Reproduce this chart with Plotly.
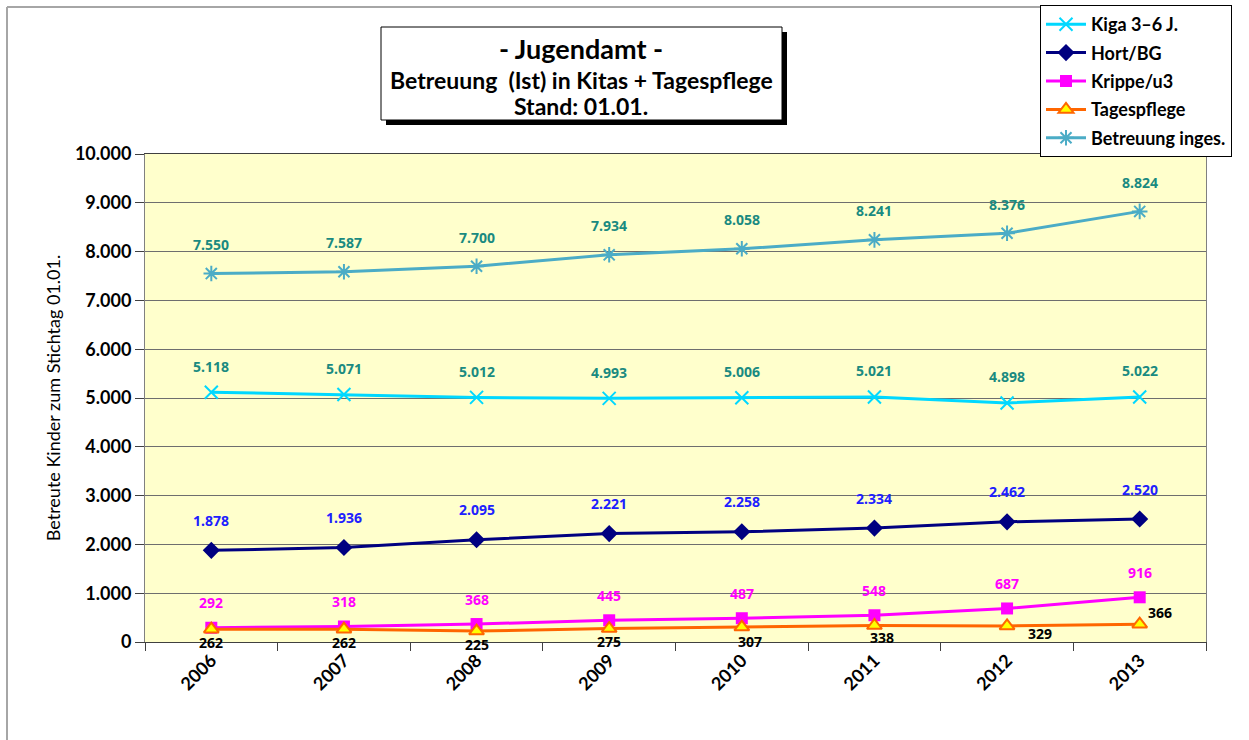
import plotly.graph_objects as go

# ---- data ----
years = ["2006", "2007", "2008", "2009", "2010", "2011", "2012", "2013"]
kiga = [5118, 5071, 5012, 4993, 5006, 5021, 4898, 5022]
hort = [1878, 1936, 2095, 2221, 2258, 2334, 2462, 2520]
krippe = [292, 318, 368, 445, 487, 548, 687, 916]
tagespflege = [262, 262, 225, 275, 307, 338, 329, 366]
betreuung = [7550, 7587, 7700, 7934, 8058, 8241, 8376, 8824]
y_ticks = [0, 1000, 2000, 3000, 4000, 5000, 6000, 7000, 8000, 9000, 10000]

# ---- layout geometry ----
W, H = 1249, 740
ML, MR, MT, MB = 145, 43, 154, 98
PW, PH = W - ML - MR, H - MT - MB


def px_x(x):
    return (x - ML) / PW


def px_y(y):
    return (H - MB - y) / PH


def fmt(v):
    return f"{v:,}".replace(",", ".")


FONT = "Lato, 'Open Sans', sans-serif"
LABEL_FONT = "'Noto Sans', 'DejaVu Sans', sans-serif"

series = [
    dict(name="Kiga 3–6 J.", y=kiga, color="#00D8FF", symbol="x-thin-open", msize=13,
         mcolor="#00D8FF", mline="#00D8FF", lcolor="#1A8A80", dy=26),
    dict(name="Hort/BG", y=hort, color="#000080", symbol="diamond", msize=11,
         mcolor="#000080", mline="#000080", lcolor="#2020FF", dy=30),
    dict(name="Krippe/u3", y=krippe, color="#FF00FF", symbol="square", msize=12,
         mcolor="#FF00FF", mline="#FF00FF", lcolor="#FF00FF", dy=25),
    dict(name="Tagespflege", y=tagespflege, color="#FF6600", symbol="triangle-up", msize=13,
         mcolor="#FFFF00", mline="#FF6600", lcolor="#000000", dy=-13),
    dict(name="Betreuung inges.", y=betreuung, color="#4BACC6", symbol="asterisk-open", msize=13,
         mcolor="#4BACC6", mline="#4BACC6", lcolor="#1A8A80", dy=29),
]

# special offsets (x, y) for some Tagespflege labels
tp_offsets = {6: (33, -8), 7: (20, 12), 4: (8, -14), 5: (8, -12)}

fig = go.Figure()
annotations = []
for k, s in enumerate(series):
    fig.add_trace(go.Scatter(
        x=years, y=s["y"], name=s["name"], mode="lines+markers",
        legendgroup=f"g{k}",
        line=dict(color=s["color"], width=3),
        marker=dict(symbol=s["symbol"], size=s["msize"], color=s["mcolor"],
                    line=dict(color=s["mline"], width=2 if s["symbol"] != "square" else 0)),
    ))
    for i, v in enumerate(s["y"]):
        dx, dy = 0, s["dy"]
        if s["name"] == "Tagespflege" and i in tp_offsets:
            dx, dy = tp_offsets[i]
        annotations.append(dict(
            x=i, y=v, xref="x", yref="y", text=fmt(v), showarrow=False,
            xshift=dx, yshift=dy, xanchor="center", yanchor="middle",
            font=dict(family=LABEL_FONT, size=14, color=s["lcolor"], weight="bold"),
        ))

# title text
annotations += [
    dict(x=px_x(581), y=px_y(48), xref="paper", yref="paper", text="- Jugendamt -",
         xanchor="center", yanchor="middle",
         showarrow=False, font=dict(family=FONT, size=27, color="#000", weight="bold")),
    dict(x=px_x(581), y=px_y(80), xref="paper", yref="paper",
         text="Betreuung  (Ist) in Kitas + Tagespflege", xanchor="center", yanchor="middle",
         showarrow=False, font=dict(family=FONT, size=23, color="#000", weight="bold")),
    dict(x=px_x(581), y=px_y(106), xref="paper", yref="paper", text="Stand: 01.01.",
         xanchor="center", yanchor="middle",
         showarrow=False, font=dict(family=FONT, size=23, color="#000", weight="bold")),
]

shapes = [
    # outer chart frame (left and top)
    dict(type="line", xref="paper", yref="paper", x0=px_x(7), x1=px_x(7), y0=px_y(7), y1=px_y(745),
         line=dict(color="#A6A6A6", width=2)),
    dict(type="line", xref="paper", yref="paper", x0=px_x(7), x1=px_x(1040), y0=px_y(7), y1=px_y(7),
         line=dict(color="#A6A6A6", width=2)),
    # title box shadow and box
    dict(type="rect", xref="paper", yref="paper", x0=px_x(386), x1=px_x(787), y0=px_y(32), y1=px_y(125),
         fillcolor="#000", line=dict(width=0)),
    dict(type="rect", xref="paper", yref="paper", x0=px_x(381), x1=px_x(782), y0=px_y(27), y1=px_y(120),
         fillcolor="#FFF", line=dict(color="#000", width=1)),
]

fig.update_layout(
    width=W, height=H,
    margin=dict(l=ML, r=MR, t=MT, b=MB, autoexpand=False),
    paper_bgcolor="#FFFFFF", plot_bgcolor="#FFFFCC",
    separators=",.",
    showlegend=True,
    legend=dict(
        x=px_x(1040), y=px_y(5), xanchor="left", yanchor="top",
        bgcolor="#FFFFFF", bordercolor="#000000", borderwidth=1,
        font=dict(family=FONT, size=18, color="#000", weight="bold"),
        tracegroupgap=2, traceorder="grouped", itemwidth=40,
        entrywidth=211,
    ),
    annotations=annotations,
    shapes=shapes,
    xaxis=dict(
        type="category", range=[-0.5, 7.5],
        tickson="boundaries", ticks="outside", ticklen=8, tickcolor="#404040",
        tickangle=-45, showgrid=False,
        showline=True, linecolor="#404040", linewidth=1, mirror=True,
        tickfont=dict(family=FONT, size=18, color="#000", weight="bold"),
    ),
    yaxis=dict(
        range=[0, 10000], tickvals=y_ticks, tickformat=",d",
        ticks="outside", ticklen=9, tickcolor="#404040",
        showgrid=True, gridcolor="#6E6E6E", gridwidth=1,
        zeroline=False,
        showline=True, linecolor="#808080", linewidth=1, mirror=True,
        tickfont=dict(family=FONT, size=18, color="#000", weight="bold"),
        title=dict(text="Betreute Kinder zum Stichtag 01.01.", standoff=9,
                   font=dict(family=FONT, size=18, color="#000")),
    ),
)

fig.write_html("out.html", config={"displayModeBar": False},
               post_script="document.body.style.margin='0';")
